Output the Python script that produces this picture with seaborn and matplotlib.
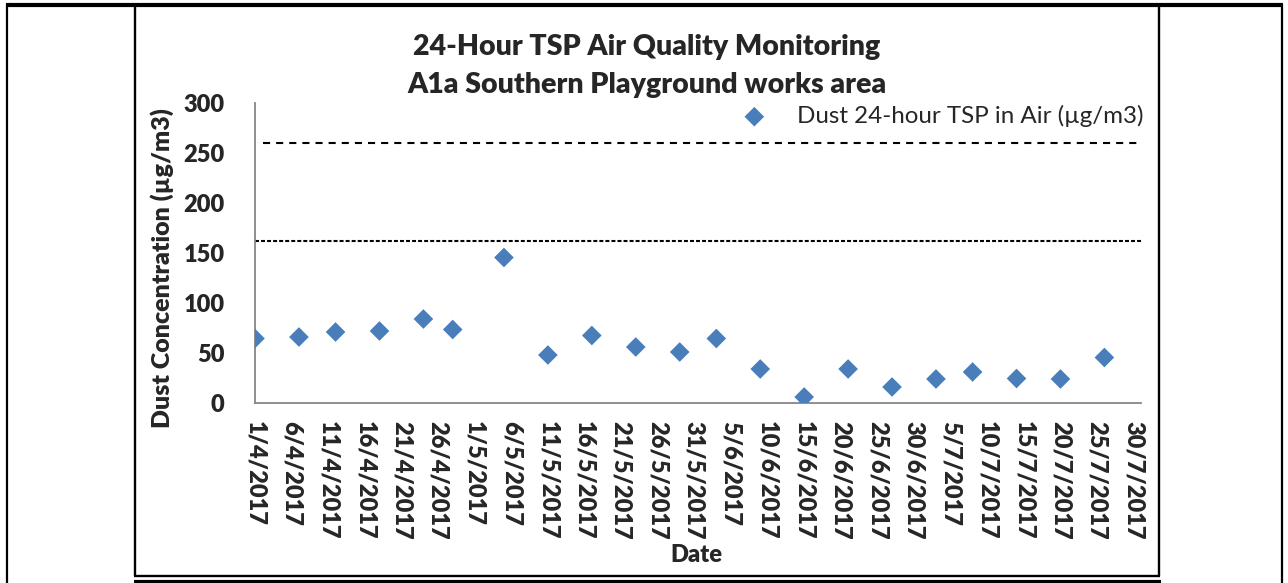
import matplotlib
matplotlib.use("Agg")
import matplotlib.pyplot as plt
import seaborn as sns
import pandas as pd
from matplotlib.lines import Line2D

# ---- data ----
sample_dates = ["2017-04-01", "2017-04-07", "2017-04-12", "2017-04-18", "2017-04-24",
                "2017-04-28", "2017-05-05", "2017-05-11", "2017-05-17", "2017-05-23",
                "2017-05-29", "2017-06-03", "2017-06-09", "2017-06-15", "2017-06-21",
                "2017-06-27", "2017-07-03", "2017-07-08", "2017-07-14", "2017-07-20",
                "2017-07-26"]
tsp_values = [64.5, 66, 71, 72, 84, 73.5, 145.5, 48, 67.5, 56, 51, 64.5, 34, 6, 34,
              16, 24, 31, 24.5, 24, 45.5]
limit_level = 260
action_level = 162
tick_dates = pd.date_range("2017-04-01", "2017-07-30", freq="5D")
tick_labels = ["1/4/2017", "6/4/2017", "11/4/2017", "16/4/2017", "21/4/2017",
               "26/4/2017", "1/5/2017", "6/5/2017", "11/5/2017", "16/5/2017",
               "21/5/2017", "26/5/2017", "31/5/2017", "5/6/2017", "10/6/2017",
               "15/6/2017", "20/6/2017", "25/6/2017", "30/6/2017", "5/7/2017",
               "10/7/2017", "15/7/2017", "20/7/2017", "25/7/2017", "30/7/2017"]
y_ticks = [0, 50, 100, 150, 200, 250, 300]
series_name = "Dust 24-hour TSP in Air (\u00b5g/m3)"
title_lines = ["24-Hour TSP Air Quality Monitoring", "A1a Southern Playground works area"]

df = pd.DataFrame({"date": pd.to_datetime(sample_dates), "tsp": tsp_values})

sns.set_theme(style="white")
plt.rcParams["font.family"] = ["Lato", "DejaVu Sans"]

W, H = 1288, 583
fig = plt.figure(figsize=(W / 100, H / 100), dpi=100)

def fx(x):
    return x / W

def fy(y):
    return 1 - y / H

ax_left, ax_right, ax_top, ax_bottom = 255, 1141, 103, 403
ax = fig.add_axes([fx(ax_left), fy(ax_bottom), (ax_right - ax_left) / W, (ax_bottom - ax_top) / H])

sns.scatterplot(data=df, x="date", y="tsp", marker="D", s=100, color="#4a7ebb",
                edgecolor="none", ax=ax, label=series_name, zorder=3)

ax.axhline(limit_level, xmin=0.009, xmax=1.0, color="black", lw=1.5, dashes=(3.4, 2.9))
ax.axhline(action_level, color="black", lw=1.5, dashes=(1.9, 1.0))

ax.set_xlim(pd.Timestamp("2017-04-01"), pd.Timestamp("2017-07-31"))
ax.set_ylim(0, 300)
ax.set_yticks(y_ticks)
ax.set_yticklabels([str(v) for v in y_ticks], fontsize=17, fontweight="heavy")
ax.set_xticks(tick_dates)
ax.set_xticklabels(tick_labels, rotation=-90, fontsize=17, fontweight="heavy")
ax.set_xlabel("")
ax.set_ylabel("")

for side in ["top", "right"]:
    ax.spines[side].set_visible(False)
for side in ["left", "bottom"]:
    ax.spines[side].set_color("#868686")
    ax.spines[side].set_linewidth(1.3)
ax.tick_params(axis="both", direction="out", length=5.8, width=1.3, color="#868686")
ax.tick_params(axis="y", pad=16)
ax.tick_params(axis="x", pad=7.5)
ax.grid(False)

ax.legend(loc="center left", bbox_to_anchor=(fx(735), fy(116)), bbox_transform=fig.transFigure,
          frameon=False, borderpad=0, borderaxespad=0, handlelength=1.6, handletextpad=0.96,
          prop={"size": 17.4})

fig.text(fx(647), fy(47), title_lines[0], ha="center", va="center", fontsize=20.5,
         fontweight="heavy")
fig.text(fx(647), fy(85), title_lines[1], ha="center", va="center", fontsize=20.5,
         fontweight="heavy")
fig.text(fx(162), fy(268), "Dust Concentration (\u00b5g/m3)", rotation=90, ha="center",
         va="center", fontsize=18, fontweight="heavy")
fig.text(fx(696), fy(555), "Date", ha="center", va="center", fontsize=17, fontweight="heavy")

# frame / table lines
def hline(y, x0, x1, lw):
    fig.add_artist(Line2D([fx(x0), fx(x1)], [fy(y), fy(y)], color="black", lw=lw,
                          transform=fig.transFigure, solid_capstyle="butt"))

def vline(x, y0, y1, lw):
    fig.add_artist(Line2D([fx(x), fx(x)], [fy(y0), fy(y1)], color="black", lw=lw,
                          transform=fig.transFigure, solid_capstyle="butt"))

hline(5, 6, 1283, 3.0)
vline(7, 4, 583, 1.6)
vline(1282, 4, 583, 1.6)
vline(135, 5, 576, 1.7)
vline(1159, 5, 576, 1.7)
hline(575.5, 134, 1160, 1.7)
hline(582, 134, 1161, 3.0)

fig.savefig("out.png", dpi=100)
